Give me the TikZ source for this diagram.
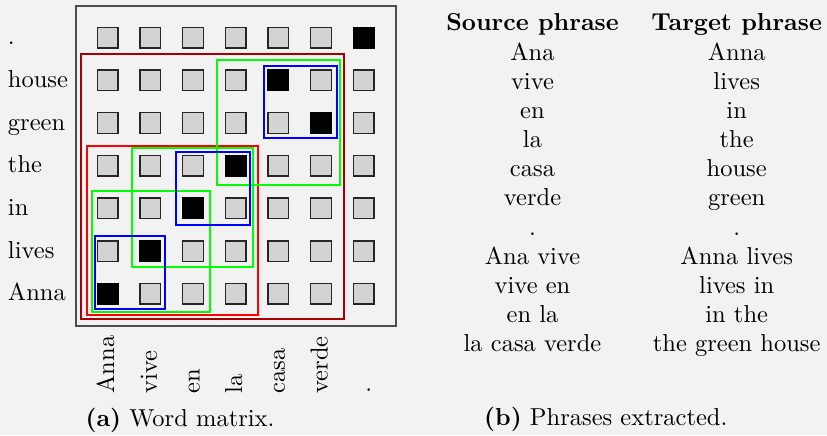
\documentclass[tikz,border=0pt]{standalone}
\definecolor{bgc}{HTML}{F2F2F2}
\definecolor{cellgray}{HTML}{D3D3D3}
\begin{document}
\begin{tikzpicture}[x=0.408163pt,y=-0.408163pt,
  cell/.style={draw=black!85, line width=0.6pt, fill=cellgray, minimum size=8.4pt, inner sep=0pt},
  hit/.style={cell, fill=black, draw=black},
  lbl/.style={inner sep=0pt, anchor=base west},
  vlbl/.style={inner sep=0pt, anchor=base west, rotate=90},
  tab/.style={inner sep=0pt, anchor=base},
  frame/.style={draw=black!70, line width=0.6pt},
  box/.style={line width=0.7pt}]
\fill[bgc] (0,0) rectangle (827,435);
\useasboundingbox (0,0) rectangle (827,435);
% frame
\draw[frame] (76,6) rectangle (396,326);
% cells
\foreach \j in {1,...,7}{
  \foreach \i in {1,...,7}{
    \pgfmathtruncatemacro\h{((\i+\j==8)&&(\i!=5)&&(\i!=6))||((\i==5)&&(\j==2))||((\i==6)&&(\j==3))}
    \ifnum\h=1 \def\st{hit}\else\def\st{cell}\fi
    \node[\st] (c\i-\j) at ({107.7+42.67*(\i-1)},{37.7+42.67*(\j-1)}) {};
  }
}
% row labels
\foreach \t [count=\j] in {.,house,green,the,in,lives,Anna}
  \node[lbl] (r\j) at (7.5,{44.7+42.67*(\j-1)}) {\t};
% column labels
\foreach \t [count=\i] in {Anna,vive,en,la,casa,verde,.}
  \node[vlbl] (b\i) at ({114.2+42.67*(\i-1)},394) {\t};
% phrase boxes
\draw[box, red!65!black] (81,54) rectangle (344,319);
\draw[box, red] (87,146) rectangle (258,315);
\draw[box, green] (217,60) rectangle (340,185);
\draw[box, green] (132,148) rectangle (253,267);
\draw[box, green] (92,191) rectangle (210,312);
\draw[box, blue] (95,236) rectangle (165,309);
\draw[box, blue] (176,152) rectangle (250,225);
\draw[box, blue] (264,66) rectangle (337,138);
% table
\node[tab, font=\bfseries] (sh) at (532.5,30.8) {Source phrase};
\node[tab, font=\bfseries] (th) at (736.7,30.8) {Target phrase};
\foreach \s/\t [count=\k] in {Ana/Anna, vive/lives, en/in, la/the, casa/house, verde/green, ./., Ana vive/Anna lives, vive en/lives in, en la/in the, la casa verde/the green house}{
  \node[tab] (s\k) at (532.5,{60+29.17*(\k-1)}) {\s};
  \node[tab] (t\k) at (736.7,{60+29.17*(\k-1)}) {\t};
}
% captions
\node[tab] (capa) at (180,426) {\textbf{(a)} Word matrix.};
\node[tab] (capb) at (605.8,425) {\textbf{(b)} Phrases extracted.};
\end{tikzpicture}
\end{document}
